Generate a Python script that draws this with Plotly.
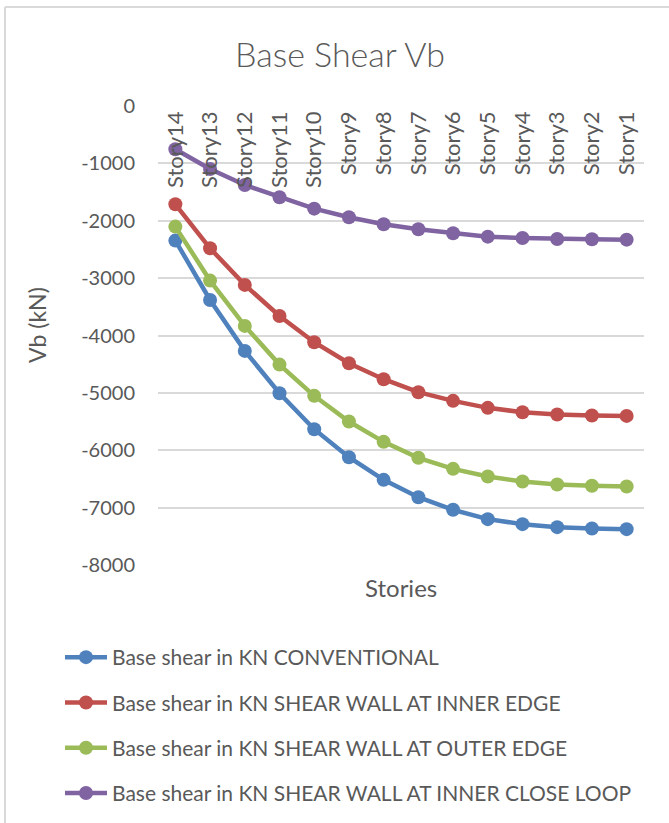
import plotly.graph_objects as go

stories = ["Story14", "Story13", "Story12", "Story11", "Story10", "Story9", "Story8",
           "Story7", "Story6", "Story5", "Story4", "Story3", "Story2", "Story1"]

conventional = [-2346, -3380, -4268, -5006, -5633, -6121, -6516,
                -6818, -7038, -7201, -7288, -7340, -7364, -7375]
inner_edge = [-1713, -2480, -3118, -3659, -4117, -4483, -4762,
              -4988, -5139, -5261, -5337, -5377, -5395, -5401]
outer_edge = [-2102, -3043, -3833, -4507, -5052, -5500, -5854,
              -6132, -6324, -6458, -6545, -6597, -6620, -6632]
close_loop = [-754, -1098, -1376, -1591, -1789, -1939, -2061,
              -2149, -2218, -2277, -2300, -2317, -2322, -2329]

series_names = [
    "Base shear in KN CONVENTIONAL",
    "Base shear in KN SHEAR WALL AT INNER EDGE",
    "Base shear in KN SHEAR WALL AT OUTER EDGE",
    "Base shear in KN SHEAR WALL AT INNER CLOSE LOOP",
]
series_values = [conventional, inner_edge, outer_edge, close_loop]
series_colors = ["#4F81BD", "#C0504D", "#9BBB59", "#8064A2"]

y_ticks = [0, -1000, -2000, -3000, -4000, -5000, -6000, -7000, -8000]
y_tick_text = [str(v) for v in y_ticks]

FONT = "Lato, Open Sans, sans-serif"
TEXT = "#595959"
GRID = "#D9D9D9"

fig = go.Figure()
for i, (name, vals, col) in enumerate(zip(series_names, series_values, series_colors)):
    fig.add_trace(go.Scatter(
        x=stories, y=vals, name=name, mode="lines+markers",
        line=dict(color=col, width=4.5),
        marker=dict(color=col, size=14),
        legendgroup=f"g{i}",
    ))

W, H = 669, 823
L, R, T, B = 158, 25, 106, 258
pw, ph = W - L - R, H - T - B

def px_x(p):
    return (p - L) / pw

def px_y(p):
    return (H - B - p) / ph

fig.update_layout(
    width=W, height=H,
    margin=dict(l=L, r=R, t=T, b=B, pad=0, autoexpand=False),
    paper_bgcolor="white", plot_bgcolor="white",
    font=dict(family=FONT, color=TEXT, size=20),
    title=dict(text="Base Shear Vb", x=340 / W, xanchor="center",
               y=1 - 55 / H, yanchor="middle",
               font=dict(family=FONT, size=34, color=TEXT, weight=300)),
    showlegend=True,
    legend=dict(x=px_x(60), xanchor="left", y=px_y(637), yanchor="top",
                font=dict(family=FONT, size=21, color=TEXT),
                tracegroupgap=15, itemwidth=42, bgcolor="rgba(0,0,0,0)"),
    # category axis sits on the zero line at the top; labels hang down into the plot
    xaxis=dict(
        type="category", side="bottom", anchor="free", position=1,
        range=[-0.5, len(stories) - 0.5],
        tickangle=-90, showgrid=False, showline=False, zeroline=False,
        tickfont=dict(family=FONT, size=22, color=TEXT), ticks="",
        automargin=False,
    ),
    yaxis=dict(
        range=[-8000, 0], tickvals=y_ticks, ticktext=y_tick_text,
        showgrid=True, gridcolor=GRID, gridwidth=1.5, zeroline=False, showline=False,
        ticks="outside", ticklen=18, tickcolor="rgba(0,0,0,0)",
        tickfont=dict(family=FONT, size=20, color=TEXT),
        automargin=False,
    ),
    shapes=[
        dict(type="line", xref="paper", yref="paper",
             x0=px_x(5), x1=px_x(700), y0=px_y(7), y1=px_y(7),
             line=dict(color=GRID, width=2)),
        dict(type="line", xref="paper", yref="paper",
             x0=px_x(5), x1=px_x(5), y0=px_y(7), y1=px_y(860),
             line=dict(color=GRID, width=2)),
    ],
    annotations=[
        dict(text="Stories", xref="paper", yref="paper", x=0.5, y=px_y(587),
             xanchor="center", yanchor="middle", showarrow=False,
             font=dict(family=FONT, size=24, color=TEXT)),
        dict(text="Vb (kN)", xref="paper", yref="paper", x=px_x(37), y=px_y(325),
             xanchor="center", yanchor="middle", showarrow=False, textangle=-90,
             font=dict(family=FONT, size=23, color=TEXT)),
    ],
)

fig.write_html("out.html")
